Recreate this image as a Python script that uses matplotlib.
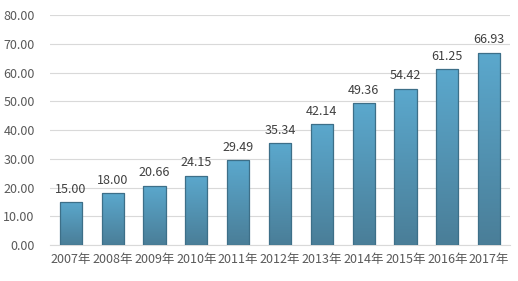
import numpy as np
import matplotlib.pyplot as plt
from matplotlib.colors import LinearSegmentedColormap

plt.rcParams['font.family'] = ['Noto Sans CJK SC', 'DejaVu Sans']

# 数据
years = ['2007年', '2008年', '2009年', '2010年', '2011年', '2012年',
         '2013年', '2014年', '2015年', '2016年', '2017年']
values = [15.00, 18.00, 20.66, 24.15, 29.49, 35.34, 42.14, 49.36, 54.42, 61.25, 66.93]
yticks = [0, 10, 20, 30, 40, 50, 60, 70, 80]

fig = plt.figure(figsize=(5.18, 2.81), dpi=100)
ax = fig.add_axes([0.0965, 0.128, 0.888, 0.8186])

x = np.arange(len(years))
bars = ax.bar(x, values, width=0.53, color='#5a9fc2', linewidth=0, zorder=3)

# градиент на столбиках
cmap = LinearSegmentedColormap.from_list('g', ['#4a7e98', '#5ba8cd'])
grad = np.linspace(0, 1, 100).reshape(-1, 1)
for b in bars:
    x0, w, h = b.get_x(), b.get_width(), b.get_height()
    im = ax.imshow(grad, cmap=cmap, aspect='auto', origin='lower',
                   extent=(x0, x0 + w, 0, h), zorder=3)
    im.set_clip_path(b)

# контур
ax.bar(x, values, width=0.53, facecolor='none', edgecolor='#3d6f88',
       linewidth=0.9, zorder=4)

for xi, v in zip(x, values):
    ax.text(xi, v + 2.2, f'{v:.2f}', ha='center', va='bottom',
            fontsize=9, color='#404040', zorder=5)

ax.set_xlim(-0.5, len(years) - 0.5)
ax.set_ylim(0, 80)
ax.set_yticks(yticks)
ax.set_yticklabels([f'{t:.2f}' for t in yticks])
ax.set_xticks(x)
ax.set_xticklabels(years)
ax.grid(axis='y', color='#d9d9d9', linewidth=0.8, zorder=0)
for s in ['top', 'right', 'left']:
    ax.spines[s].set_visible(False)
ax.spines['bottom'].set_color('#d9d9d9')
ax.tick_params(length=0, labelsize=9, colors='#595959')
ax.tick_params(axis='y', pad=11)
ax.tick_params(axis='x', pad=6)

fig.savefig('out.png', dpi=100)
